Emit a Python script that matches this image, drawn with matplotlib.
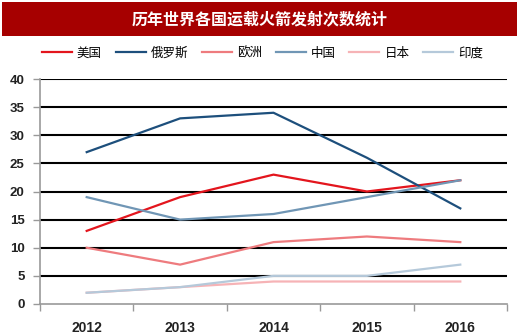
import matplotlib
matplotlib.use("Agg")
import matplotlib.pyplot as plt
from matplotlib.patches import Rectangle

plt.rcParams['font.family'] = ['Noto Sans CJK SC', 'DejaVu Sans']

years = ['2012', '2013', '2014', '2015', '2016']
series_names = ['美国', '俄罗斯', '欧洲', '中国', '日本', '印度']
usa = [13, 19, 23, 20, 22]
russia = [27, 33, 34, 26, 17]
europe = [10, 7, 11, 12, 11]
china = [19, 15, 16, 19, 22]
japan = [2, 3, 4, 4, 4]
india = [2, 3, 5, 5, 7]
values = [usa, russia, europe, china, japan, india]
colors = ['#E3151D', '#1D4F7C', '#EE7B7E', '#7096B5', '#F6B3B6', '#B5C9DA']
title = '历年世界各国运载火箭发射次数统计'

fig = plt.figure(figsize=(5.2, 3.34), dpi=100)
fig.patch.set_facecolor('white')

# title banner
fig.add_artist(Rectangle((2/520, 1 - 36/334), 515/520, 34/334, transform=fig.transFigure,
                         facecolor='#A60000', edgecolor='none'))
fig.text(0.5, 1 - 19/334, title, color='white', fontsize=11.5, fontweight='bold',
         ha='center', va='center')

ax = fig.add_axes([40/520, 1 - 304/334, 467/520, 225/334])
x = list(range(len(years)))
lines = []
for i in range(len(values)):
    ln, = ax.plot(x, values[i], color=colors[i], lw=1.6, label=series_names[i], zorder=3)
    lines.append(ln)
lines[5].set_zorder(4)

ax.set_xlim(-0.5, 4.5)
ax.set_ylim(0, 40)
ax.set_yticks(range(0, 41, 5))
ax.set_xticks([i + 0.5 for i in range(-1, 5)], minor=False)
ax.set_xticklabels([''] * 6)
ax.set_xticks(x, minor=True)
ax.set_xticklabels(years, minor=True)
ax.tick_params(axis='x', which='minor', length=0, pad=12, labelsize=10)
ax.tick_params(axis='x', which='major', length=5, color='#999999', width=1)
ax.tick_params(axis='y', length=5, color='#999999', width=1, labelsize=9.5, pad=6)
for lab in ax.get_xticklabels(minor=True) + ax.get_yticklabels():
    lab.set_fontfamily(['Liberation Sans', 'DejaVu Sans'])
    lab.set_fontweight('bold')
    lab.set_color('#222222')

for y in range(5, 41, 5):
    ax.axhline(y, color='black', lw=1.5, zorder=1)
for s in ['top', 'right']:
    ax.spines[s].set_visible(False)
ax.spines['left'].set_color('#999999')
ax.spines['bottom'].set_color('#999999')
ax.spines['left'].set_linewidth(1.2)
ax.spines['bottom'].set_linewidth(1.2)

fig.legend(handles=lines, labels=series_names, loc='center', bbox_to_anchor=(0.505, 1 - 53/334),
           ncol=6, frameon=False, fontsize=9, handlelength=2.4, columnspacing=1.1,
           handletextpad=0.4)

fig.savefig('out.png', dpi=100)
